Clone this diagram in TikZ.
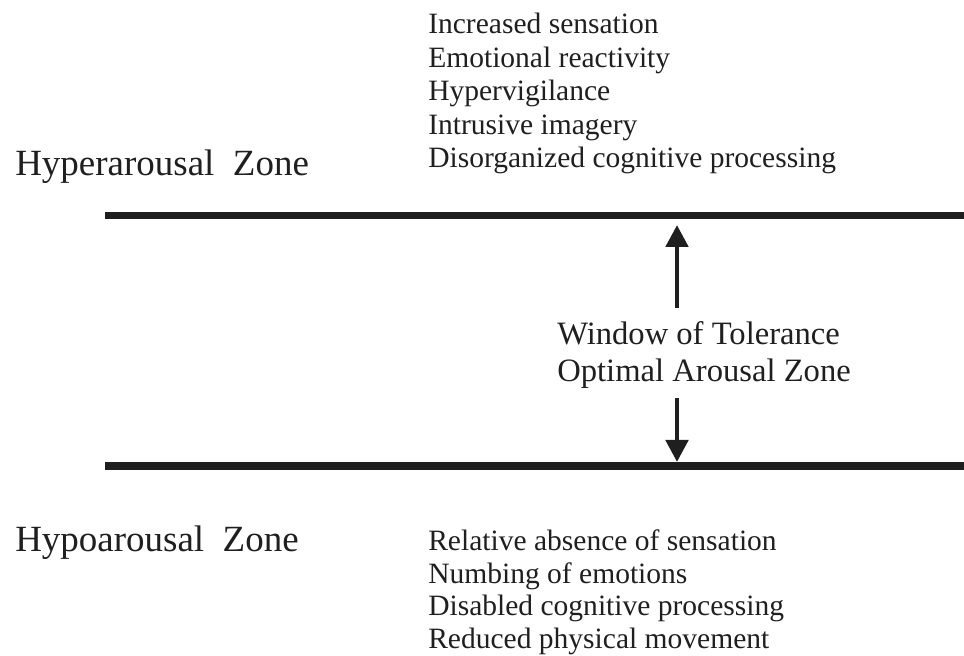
\documentclass[tikz,border=0pt]{standalone}
\usepackage{fontspec}
\setmainfont{Liberation Serif}
\usetikzlibrary{arrows.meta}

\begin{document}
\begin{tikzpicture}[>={Triangle[length=5.5mm,width=5.5mm]},
  ink/.style={black!88},
  bound/.style={ink,line width=5pt},
  zone/.style={ink,inner sep=0pt,font=\fontsize{26.3}{30}\selectfont},
  signs/.style={ink,inner sep=0pt,align=left,font=\fontsize{21}{23.9}\selectfont},
  window/.style={ink,inner sep=0pt,align=left,font=\fontsize{23.2}{26.3}\selectfont}]
  \useasboundingbox (0,0) rectangle (24.1,16.4);

  % band limits
  \coordinate (hiL) at (2.625,11.01);
  \coordinate (hiR) at (24.1,11.01);
  \coordinate (loL) at (2.625,4.75);
  \coordinate (loR) at (24.1,4.75);
  \draw[bound] (hiL) -- (hiR);
  \draw[bound] (loL) -- (loR);

  % above the band: hyperarousal
  \node[zone,anchor=base west] (hyper) at (0.375,12.0) {Hyperarousal~~Zone};
  \node[signs,anchor=north west] (hyperList) at (10.7,16.08)
    {Increased sensation\\Emotional reactivity\\Hypervigilance\\Intrusive imagery\\Disorganized cognitive processing};

  % inside the band: window of tolerance
  \node[window,anchor=north west] (win) at (13.925,8.36)
    {Window of Tolerance\\Optimal Arousal Zone};
  \coordinate (upTail) at (16.925,8.7);
  \coordinate (upTip) at (16.925,10.775);
  \coordinate (dnTail) at (16.925,6.45);
  \coordinate (dnTip) at (16.925,4.85);
  \draw[->,ink,line width=3.5pt] (upTail) -- (upTip);
  \draw[->,ink,line width=3.5pt] (dnTail) -- (dnTip);

  % below the band: hypoarousal
  \node[zone,anchor=base west] (hypo) at (0.375,2.62) {Hypoarousal~~Zone};
  \node[signs,anchor=north west,font=\fontsize{21}{23.1}\selectfont] (hypoList) at (10.7,3.16)
    {Relative absence of sensation\\Numbing of emotions\\Disabled cognitive processing\\Reduced physical movement};
\end{tikzpicture}
\end{document}
